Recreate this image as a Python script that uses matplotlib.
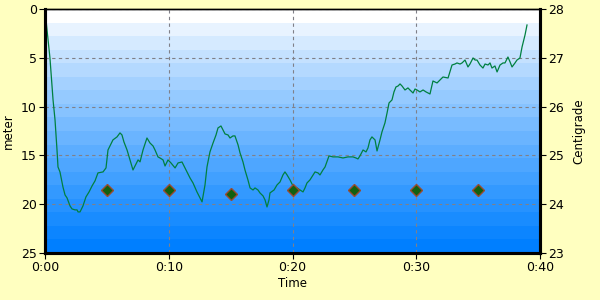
import numpy as np
import matplotlib
matplotlib.use("Agg")
import matplotlib.pyplot as plt
from matplotlib.colors import ListedColormap

# Depth profile (time in minutes, depth in meters)
time_min = [0.08, 0.40, 0.65, 0.81, 0.97, 1.05, 1.21, 1.45, 1.62, 1.78, 2.02, 2.18, 2.42, 2.59, 2.67,
            2.83, 2.91, 3.07, 3.31, 3.56, 3.80, 4.04, 4.28, 4.69, 4.93, 5.09, 5.25, 5.49, 5.82, 6.06,
            6.22, 6.38, 6.63, 6.87, 7.11, 7.27, 7.52, 7.68, 7.92, 8.24, 8.48, 8.73, 8.89, 9.13, 9.29,
            9.54, 9.70, 9.94, 10.18, 10.51, 10.75, 11.07, 11.31, 11.47, 11.72, 11.96, 12.28, 12.53, 12.69,
            12.93, 13.09, 13.33, 13.58, 13.82, 13.98, 14.22, 14.38, 14.55, 14.79, 14.95, 15.19, 15.35,
            15.60, 15.76, 16.00, 16.16, 16.40, 16.57, 16.81, 16.97, 17.21, 17.37, 17.62, 17.78, 17.94,
            18.10, 18.18, 18.51, 18.75, 18.99, 19.23, 19.39, 19.56, 19.80, 20.04, 20.36, 20.61, 20.85,
            21.01, 21.17, 21.41, 21.82, 22.06, 22.22, 22.46, 22.63, 22.95, 23.27, 23.68, 24.08, 24.48,
            24.89, 25.13, 25.29, 25.45, 25.70, 25.94, 26.10, 26.26, 26.42, 26.67, 26.83, 27.07, 27.23,
            27.47, 27.64, 27.80, 28.04, 28.20, 28.36, 28.53, 28.69, 28.85, 29.09, 29.33, 29.49, 29.74,
            29.90, 30.06, 30.30, 30.55, 30.79, 31.11, 31.35, 31.68, 31.92, 32.16, 32.57, 32.89, 33.13,
            33.29, 33.54, 33.70, 33.94, 34.18, 34.34, 34.59, 34.75, 34.91, 35.15, 35.39, 35.56, 35.80,
            35.96, 36.12, 36.36, 36.53, 36.77, 37.01, 37.17, 37.41, 37.58, 37.74, 37.98, 38.14, 38.38,
            38.55, 38.79, 38.95]
depth_m = [1.13, 5.02, 9.32, 11.37, 14.45, 16.19, 16.70, 18.24, 19.06, 19.36, 20.18, 20.49, 20.59, 20.59, 20.80,
           20.80, 20.59, 20.18, 19.26, 18.75, 18.14, 17.62, 16.80, 16.70, 16.29, 14.45, 14.04, 13.42, 13.11, 12.70,
           12.91, 13.63, 14.45, 15.47, 16.50, 16.09, 15.47, 15.67, 14.45, 13.22, 13.73, 14.04, 14.45, 15.16, 15.27,
           15.47, 16.09, 15.47, 15.78, 16.29, 15.78, 15.68, 16.29, 16.70, 17.32, 17.83, 18.75, 19.36, 19.77,
           18.03, 16.19, 14.65, 13.73, 12.91, 12.19, 11.99, 12.40, 12.81, 12.91, 13.22, 13.01, 13.01,
           13.93, 14.75, 15.68, 16.50, 17.52, 18.34, 18.55, 18.34, 18.55, 18.85, 19.16, 19.57, 20.29,
           19.57, 18.85, 18.55, 18.03, 17.73, 17.01, 16.70, 17.01, 17.52, 18.14, 18.34, 18.55, 18.75,
           18.34, 17.83, 17.52, 16.70, 16.80, 17.01, 16.50, 16.19, 15.06, 15.16, 15.16, 15.27, 15.16,
           15.16, 15.27, 15.37, 15.06, 14.45, 14.65, 14.24, 13.42, 13.11, 13.42, 14.55, 13.42, 12.60,
           11.68, 10.66, 9.63, 9.32, 8.50, 7.99, 7.89, 7.68, 7.89, 8.30, 8.09, 8.30, 8.61,
           8.20, 8.30, 8.50, 8.30, 8.50, 8.71, 7.38, 7.58, 7.27, 6.97, 7.07, 5.74, 5.64,
           5.53, 5.64, 5.53, 5.23, 5.94, 5.64, 5.02, 5.23, 5.23, 5.74, 6.05, 5.64, 5.74,
           5.53, 6.05, 5.84, 6.45, 5.74, 5.53, 5.53, 4.92, 5.43, 5.94, 5.53, 5.23, 5.02,
           3.89, 2.66, 1.64]

# Temperature samples
temp_time_min = [5, 10, 15, 20, 25, 30, 35]
temp_c = [24.28, 24.28, 24.21, 24.28, 24.28, 24.28, 24.28]

x_ticks = [0, 10, 20, 30, 40]
x_tick_labels = ["0:00", "0:10", "0:20", "0:30", "0:40"]
depth_ticks = [0, 5, 10, 15, 20, 25]
temp_ticks = [23, 24, 25, 26, 27, 28]

fig = plt.figure(figsize=(6, 3), dpi=100, facecolor="#ffffc0")
ax = fig.add_axes([0.075, 0.157, 0.825, 0.813])

# banded gradient background
nb = 18
c_top = np.array([1.0, 1.0, 1.0])
c_bot = np.array([0.0, 0.5, 1.0])
cols = [c_top + (c_bot - c_top) * (i / (nb - 1)) ** 0.85 for i in range(nb)]
cmap = ListedColormap(cols)
grad = np.arange(nb).reshape(-1, 1)
ax.imshow(grad, cmap=cmap, aspect="auto", extent=[0, 40, 25, 0], zorder=0, interpolation="nearest")

ax.plot(time_min, depth_m, color="#008040", lw=0.9, zorder=3)
ax.set_xlim(0, 40)
ax.set_ylim(25, 0)
ax.set_xticks(x_ticks)
ax.set_xticklabels(x_tick_labels)
ax.set_yticks(depth_ticks)
ax.grid(True, color="#808088", linestyle=(0, (3, 3)), lw=0.8, zorder=1)
ax.set_axisbelow(False)
ax.set_xlabel("Time", fontsize=8.5, labelpad=2)
ax.set_ylabel("meter", fontsize=8.5, labelpad=4)
ax.tick_params(labelsize=9, length=4, width=0.8, pad=2)

for s in ["left", "right", "bottom"]:
    ax.spines[s].set_linewidth(2.2)
ax.spines["top"].set_linewidth(1.0)

ax2 = ax.twinx()
ax2.plot(temp_time_min, temp_c, linestyle="none", marker="D", markersize=6.5,
         markerfacecolor="#106010", markeredgecolor="#9a4a30", markeredgewidth=1.0, zorder=4)
ax2.set_ylim(23, 28)
ax2.set_yticks(temp_ticks)
ax2.set_ylabel("Centigrade", fontsize=8.5, labelpad=6)
ax2.tick_params(labelsize=9, length=4, width=0.8, pad=2)
for s in ["left", "right", "bottom"]:
    ax2.spines[s].set_linewidth(2.2)
ax2.spines["top"].set_linewidth(1.0)

fig.savefig("out.png", dpi=100, facecolor=fig.get_facecolor())
